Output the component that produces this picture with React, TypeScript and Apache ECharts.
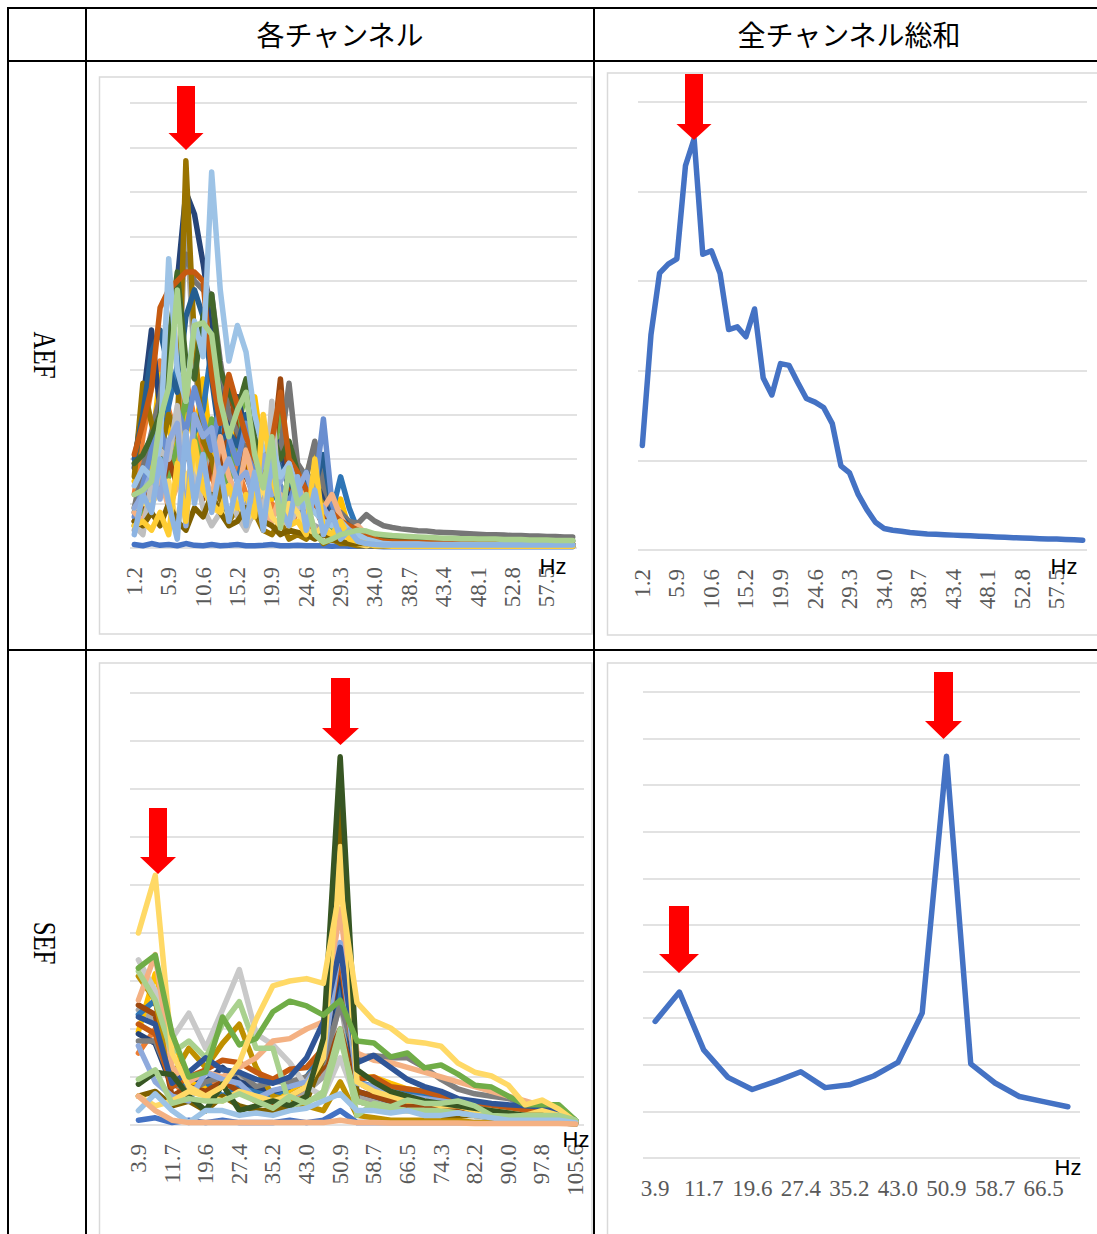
import React, { useEffect, useRef } from "react";
import * as echarts from "echarts";

// ---------- categories (Hz) ----------
const aefFreq = ["1.2","2.3","3.5","4.7","5.9","7.0","8.2","9.4","10.6","11.7","12.9","14.1","15.2","16.4","17.6","18.8","19.9","21.1","22.3","23.4","24.6","25.8","27.0","28.1","29.3","30.5","31.6","32.8","34.0","35.2","36.3","37.5","38.7","39.8","41.0","42.2","43.4","44.5","45.7","46.9","48.1","49.2","50.4","51.6","52.8","53.9","55.1","56.3","57.5","58.6","59.8","61.0"];
const sefFreq = ["3.9","7.8","11.7","15.7","19.6","23.5","27.4","31.3","35.2","39.1","43.0","47.0","50.9","54.8","58.7","62.6","66.5","70.4","74.3","78.3","82.2","86.1","90.0","93.9","97.8","101.7","105.6"];
const sefSumFreq = ["3.9","7.8","11.7","15.7","19.6","23.5","27.4","31.3","35.2","39.1","43.0","47.0","50.9","54.8","58.7","62.6","66.5","70.4"];

// ---------- sums ----------
const aefSum = [1.165,2.40,3.09,3.19,3.25,4.29,4.59,3.30,3.34,3.09,2.46,2.49,2.38,2.69,1.92,1.73,2.08,2.06,1.87,1.69,1.65,1.59,1.41,0.94,0.86,0.62,0.45,0.31,0.24,0.22,0.21,0.195,0.187,0.179,0.175,0.17,0.166,0.162,0.158,0.154,0.150,0.146,0.142,0.138,0.134,0.13,0.126,0.122,0.122,0.118,0.114,0.11];
const sefSum = [2.93,3.56,2.32,1.73,1.47,1.65,1.85,1.51,1.57,1.76,2.05,3.11,8.62,2.02,1.61,1.32,1.21,1.10];

// ---------- AEF each channel ----------
const aefCh01 = [0.08,0.05,0.1,0.06,0.08,0.05,0.1,0.06,0.05,0.08,0.05,0.06,0.08,0.05,0.05,0.06,0.08,0.05,0.05,0.06,0.05,0.05,0.05,0.04,0.05,0.04,0.04,0.04,0.04,0.03,0.03,0.03,0.03,0.03,0.03,0.03,0.03,0.03,0.03,0.03,0.03,0.03,0.03,0.03,0.03,0.03,0.03,0.03,0.03,0.03,0.03,0.03];
const aefCh02 = [1.2,2.5,3.6,4.2,3.1,2.4,3.8,2.9,2.2,1.6,1.1,2.3,1.8,1.2,0.8,0.6,1.0,0.7,0.5,0.8,0.6,0.4,0.3,0.5,0.6,0.4,0.3,0.2,0.15,0.12,0.11,0.1,0.1,0.1,0.09,0.09,0.09,0.08,0.08,0.08,0.08,0.07,0.07,0.07,0.07,0.07,0.06,0.06,0.06,0.06,0.06,0.06];
const aefCh03 = [0.4,1.1,1.8,2.2,3.0,2.6,7.6,4.1,2.6,1.8,1.4,1.6,1.1,0.9,1.6,1.2,3.0,1.1,0.7,0.9,0.6,0.5,0.4,0.3,0.3,0.2,0.2,0.15,0.12,0.11,0.1,0.1,0.1,0.09,0.09,0.09,0.09,0.08,0.08,0.08,0.08,0.08,0.07,0.07,0.07,0.07,0.07,0.07,0.06,0.06,0.06,0.06];
const aefCh04 = [1.5,1.1,2.2,3.9,2.7,1.9,3.2,2.4,3.8,2.1,1.5,3.1,2.4,1.8,3.4,2.0,1.1,1.4,0.9,1.2,1.6,2.3,1.0,0.6,1.1,0.4,0.3,0.25,0.2,0.15,0.14,0.13,0.13,0.12,0.12,0.11,0.11,0.11,0.1,0.1,0.1,0.1,0.09,0.09,0.09,0.09,0.09,0.08,0.08,0.08,0.08,0.08];
const aefCh05 = [0.8,1.6,2.4,1.9,3.2,4.1,3.5,2.6,3.1,4.5,3.2,2.0,1.5,2.3,1.7,1.0,1.4,0.9,1.2,0.8,1.5,1.2,1.9,0.8,1.6,0.9,0.4,0.3,0.2,0.15,0.13,0.12,0.12,0.11,0.11,0.1,0.1,0.1,0.1,0.09,0.09,0.09,0.09,0.08,0.08,0.08,0.08,0.08,0.07,0.07,0.07,0.07];
const aefCh06 = [0.5,0.9,1.4,2.0,1.6,2.3,3.4,2.5,1.8,2.9,2.2,1.4,2.6,3.6,1.8,1.1,1.6,3.2,0.9,1.4,0.8,1.0,0.5,0.4,0.3,0.3,0.2,0.2,0.15,0.1,0.1,0.1,0.09,0.09,0.09,0.08,0.08,0.08,0.08,0.08,0.07,0.07,0.07,0.07,0.07,0.07,0.06,0.06,0.06,0.06,0.06,0.06];
const aefCh07 = [1.8,3.3,4.9,3.1,4.0,6.0,8.0,7.5,6.4,5.1,3.6,2.8,3.4,2.6,2.2,1.5,1.8,2.4,1.2,1.5,1.0,0.8,1.3,0.6,0.5,0.4,0.3,0.2,0.15,0.1,0.1,0.09,0.09,0.09,0.08,0.08,0.08,0.08,0.07,0.07,0.07,0.07,0.07,0.07,0.06,0.06,0.06,0.06,0.06,0.06,0.05,0.05];
const aefCh08 = [0.6,1.0,1.5,1.2,2.0,1.4,2.2,1.6,1.1,1.9,1.4,3.8,2.5,1.6,1.2,0.9,2.0,3.8,1.4,1.1,0.7,0.9,0.5,0.8,0.6,0.4,0.3,0.2,0.15,0.1,0.1,0.09,0.09,0.09,0.08,0.08,0.08,0.08,0.07,0.07,0.07,0.07,0.07,0.07,0.06,0.06,0.06,0.06,0.06,0.06,0.05,0.05];
const aefCh09 = [0.9,1.8,2.6,3.4,4.8,5.4,6.6,6.0,5.8,5.7,4.2,3.0,2.6,2.2,1.7,1.4,1.2,2.2,3.7,1.9,1.6,2.4,1.4,0.9,0.8,0.6,0.55,0.75,0.6,0.5,0.46,0.43,0.41,0.39,0.38,0.36,0.35,0.34,0.33,0.32,0.31,0.3,0.3,0.29,0.28,0.28,0.27,0.27,0.26,0.26,0.25,0.25];
const aefCh10 = [1.6,3.7,2.8,2.1,3.0,2.5,8.7,4.6,2.4,2.0,1.1,0.6,0.9,0.5,0.8,0.4,0.3,0.6,0.2,0.3,0.2,0.4,0.1,0.2,0.1,0.1,0.05,0.05,0.05,0.05,0.05,0.05,0.05,0.05,0.05,0.05,0.05,0.05,0.05,0.05,0.05,0.05,0.05,0.05,0.05,0.05,0.05,0.05,0.05,0.05,0.05,0.05];
const aefCh11 = [2.0,3.0,4.4,4.9,4.0,3.5,5.2,5.8,5.2,3.8,2.4,2.6,2.3,3.0,1.9,1.4,2.2,1.8,1.5,1.2,1.7,1.4,2.1,0.9,0.7,0.5,0.4,0.3,0.2,0.15,0.14,0.13,0.13,0.12,0.12,0.11,0.11,0.11,0.1,0.1,0.1,0.1,0.1,0.09,0.09,0.09,0.09,0.09,0.09,0.08,0.08,0.08];
const aefCh12 = [1.9,2.1,2.5,3.0,4.6,6.2,4.2,3.8,5.2,5.7,4.0,3.5,3.1,3.8,2.5,1.8,2.6,2.0,2.4,1.7,1.2,1.5,0.8,0.6,0.5,0.4,0.3,0.35,0.3,0.25,0.24,0.23,0.22,0.22,0.21,0.21,0.2,0.2,0.2,0.19,0.19,0.19,0.18,0.18,0.18,0.17,0.17,0.17,0.17,0.16,0.16,0.16];
const aefCh13 = [0.7,1.4,2.2,2.7,2.0,3.1,2.6,3.6,2.9,2.2,3.2,2.5,1.9,2.8,1.6,1.2,1.9,1.4,1.0,1.6,1.1,1.3,2.9,1.0,0.5,0.4,0.3,0.2,0.15,0.1,0.09,0.09,0.09,0.08,0.08,0.08,0.08,0.08,0.07,0.07,0.07,0.07,0.07,0.07,0.06,0.06,0.06,0.06,0.06,0.06,0.06,0.06];
const aefCh14 = [0.8,0.6,1.2,1.6,0.9,1.4,2.6,1.3,1.9,1.0,2.5,1.6,1.1,2.2,1.4,0.8,0.6,1.2,0.7,1.0,1.3,0.8,0.9,1.2,0.7,0.4,0.5,0.3,0.2,0.1,0.1,0.1,0.09,0.09,0.09,0.09,0.08,0.08,0.08,0.08,0.08,0.07,0.07,0.07,0.07,0.07,0.07,0.06,0.06,0.06,0.06,0.06];
const aefCh15 = [0.5,0.3,1.5,2.2,2.0,3.2,1.1,1.8,0.9,0.5,0.8,1.4,0.7,0.4,0.9,0.6,3.3,0.7,0.5,0.9,1.0,0.4,0.3,0.2,0.3,0.2,0.15,0.1,0.1,0.1,0.09,0.09,0.09,0.08,0.08,0.08,0.08,0.07,0.07,0.07,0.07,0.07,0.06,0.06,0.06,0.06,0.06,0.06,0.05,0.05,0.05,0.05];
const aefCh16 = [0.9,1.0,1.0,1.3,1.5,0.4,1.6,1.9,1.4,0.9,0.8,0.7,1.1,0.6,0.9,1.4,0.7,0.5,1.0,0.8,0.4,0.3,0.5,0.3,0.2,0.15,0.1,0.05,0.1,0.1,0.05,0.05,0.05,0.05,0.04,0.04,0.04,0.04,0.04,0.04,0.04,0.04,0.04,0.04,0.04,0.04,0.04,0.04,0.04,0.04,0.04,0.04];
const aefCh17 = [0.6,0.5,0.8,0.5,1.0,0.6,0.4,0.9,0.7,1.2,0.8,0.5,0.6,0.9,0.8,0.6,0.5,0.3,0.4,0.35,0.3,0.2,0.3,0.2,0.15,0.1,0.1,0.1,0.05,0.05,0.05,0.05,0.05,0.05,0.05,0.05,0.05,0.05,0.05,0.05,0.05,0.05,0.05,0.05,0.05,0.05,0.05,0.05,0.05,0.05,0.05,0.05];
const aefCh18 = [2.1,2.8,3.6,5.4,5.8,6.0,6.2,6.2,6.0,3.9,2.8,3.9,3.2,2.5,2.0,1.6,2.4,3.5,2.0,1.7,1.3,1.0,0.7,0.8,0.6,0.5,0.4,0.3,0.2,0.15,0.14,0.13,0.13,0.12,0.12,0.11,0.11,0.11,0.1,0.1,0.1,0.1,0.1,0.09,0.09,0.09,0.09,0.09,0.09,0.08,0.08,0.08];
const aefCh19 = [0.9,1.2,1.7,1.1,2.4,2.8,0.5,3.0,2.5,2.7,1.6,2.0,1.5,1.7,1.0,2.1,1.2,1.5,1.9,1.3,1.7,1.1,0.9,0.6,0.4,0.3,0.2,0.15,0.1,0.08,0.08,0.08,0.08,0.08,0.08,0.07,0.07,0.07,0.07,0.07,0.07,0.07,0.07,0.06,0.06,0.06,0.06,0.06,0.06,0.06,0.06,0.06];
const aefCh20 = [1.4,1.8,1.6,2.3,6.5,4.0,3.3,5.1,4.3,8.45,5.8,4.2,5.0,4.4,3.0,2.2,2.4,1.6,1.9,1.2,1.0,0.8,0.6,0.5,0.6,0.4,0.3,0.2,0.15,0.1,0.09,0.09,0.09,0.09,0.08,0.08,0.08,0.08,0.08,0.08,0.07,0.07,0.07,0.07,0.07,0.07,0.07,0.07,0.07,0.07,0.07,0.07];
const aefCh21 = [0.5,0.6,0.4,0.8,0.3,1.9,0.6,2.4,1.3,1.0,0.8,1.4,0.9,1.2,0.7,3.0,1.6,0.9,0.5,0.6,0.3,2.0,0.4,0.3,0.6,0.2,0.15,0.1,0.05,0.05,0.04,0.04,0.04,0.04,0.04,0.04,0.04,0.04,0.04,0.04,0.04,0.04,0.04,0.04,0.04,0.04,0.04,0.04,0.04,0.04,0.04,0.04];
const aefCh22 = [0.3,1.2,0.8,2.0,1.0,0.2,2.6,1.0,2.1,0.8,1.8,0.6,1.5,0.5,1.7,0.4,2.0,0.9,0.5,1.6,0.4,1.3,0.3,0.8,0.2,0.4,0.15,0.1,0.08,0.07,0.07,0.07,0.07,0.07,0.07,0.07,0.07,0.07,0.07,0.07,0.07,0.07,0.07,0.07,0.07,0.07,0.07,0.07,0.07,0.07,0.07,0.07];
const aefCh23 = [1.2,1.3,1.5,2.9,3.6,5.8,3.3,5.0,5.06,4.8,3.3,2.5,3.1,3.5,2.1,1.35,2.5,0.45,1.8,1.0,1.2,0.3,0.13,0.2,0.3,0.35,0.4,0.38,0.32,0.3,0.28,0.27,0.26,0.25,0.24,0.23,0.22,0.22,0.21,0.21,0.2,0.2,0.2,0.19,0.19,0.19,0.18,0.18,0.18,0.17,0.17,0.17];

// ---------- SEF each channel ----------
const sefCh01 = [0.1,0.15,0.05,0.1,0.05,0.1,0.05,0.05,0.05,0.1,0.05,0.1,0.3,0.05,0.05,0.05,0.05,0.05,0.05,0.05,0.05,0.05,0.05,0.05,0.05,0.05,0.02];
const sefCh02 = [1.5,2.0,0.9,0.6,0.8,1.0,0.7,0.5,0.4,0.5,0.6,1.2,3.2,0.9,0.7,0.6,0.5,0.4,0.4,0.3,0.3,0.25,0.2,0.2,0.15,0.15,0.05];
const sefCh03 = [2.4,2.2,1.2,0.8,0.7,0.9,1.0,0.6,0.5,0.6,0.7,1.0,2.6,0.6,0.5,0.4,0.4,0.3,0.3,0.3,0.25,0.2,0.2,0.2,0.15,0.1,0.05];
const sefCh04 = [1.95,3.15,1.9,0.87,0.8,0.6,0.7,0.5,0.6,0.7,0.9,1.6,7.06,1.0,1.0,0.87,0.75,0.7,0.6,0.5,0.4,0.3,0.3,0.25,0.2,0.15,0.05];
const sefCh05 = [2.3,2.6,1.0,0.7,0.9,0.6,0.8,0.7,0.6,0.8,1.0,1.5,2.9,0.9,0.8,0.7,0.65,0.6,0.55,0.5,0.45,0.4,0.35,0.3,0.25,0.2,0.05];
const sefCh06 = [1.9,1.7,0.8,1.0,0.9,1.2,0.9,0.8,0.7,0.8,1.0,1.3,3.3,0.7,0.6,0.5,0.5,0.4,0.4,0.35,0.3,0.3,0.25,0.2,0.2,0.15,0.05];
const sefCh07 = [2.5,2.3,0.6,0.8,0.7,0.9,0.7,0.5,0.4,0.6,0.8,1.2,2.0,0.7,0.6,0.5,0.4,0.4,0.3,0.3,0.2,0.2,0.2,0.15,0.1,0.1,0.05];
const sefCh08 = [3.1,2.6,1.0,1.6,1.2,1.7,2.1,1.2,0.6,0.5,0.4,0.3,0.9,0.2,0.15,0.1,0.1,0.1,0.1,0.1,0.05,0.05,0.05,0.05,0.05,0.05,0.02];
const sefCh09 = [1.75,1.75,0.9,0.7,0.9,1.0,1.1,0.8,0.9,0.9,1.0,1.3,2.5,1.4,1.45,1.4,1.4,1.2,0.95,0.75,0.65,0.6,0.55,0.45,0.42,0.35,0.1];
const sefCh10 = [0.6,0.7,0.4,0.5,0.3,0.6,0.4,0.3,0.3,0.4,0.5,1.4,6.67,0.5,0.4,0.3,0.3,0.3,0.2,0.2,0.2,0.15,0.15,0.1,0.1,0.1,0.05];
const sefCh11 = [3.44,2.8,1.8,2.33,1.6,2.4,3.24,1.9,1.67,1.3,0.8,0.6,1.4,0.5,0.4,0.35,0.3,0.3,0.25,0.25,0.2,0.2,0.15,0.15,0.1,0.1,0.05];
const sefCh12 = [2.1,1.9,0.8,1.0,1.15,1.35,1.3,1.1,0.95,1.16,1.2,1.6,3.5,0.95,1.0,0.8,0.75,0.7,0.6,0.5,0.45,0.4,0.35,0.3,0.3,0.2,0.05];
const sefCh13 = [2.6,3.55,1.2,0.9,1.1,1.0,1.2,1.4,1.75,1.8,2.0,2.15,4.5,1.5,1.35,1.3,1.2,1.1,1.0,0.9,0.8,0.7,0.6,0.5,0.4,0.3,0.1];
const sefCh14 = [1.65,0.9,0.6,0.5,1.1,0.95,0.87,0.55,0.72,0.8,0.9,1.4,3.8,0.87,0.8,0.7,0.6,0.55,0.5,0.45,0.35,0.3,0.25,0.2,0.2,0.15,0.05];
const sefCh15 = [3.2,2.6,1.5,1.75,1.4,2.1,2.57,1.6,1.6,0.4,0.5,0.6,1.8,0.5,0.4,0.35,0.3,0.3,0.3,0.25,0.2,0.2,0.2,0.15,0.15,0.1,0.05];
const sefCh16 = [2.25,2.1,0.87,1.1,1.4,1.15,1.1,0.95,0.87,1.0,1.4,2.15,3.7,1.3,1.45,1.2,0.95,0.8,0.7,0.55,0.5,0.45,0.42,0.4,0.38,0.25,0.1];
const sefCh17 = [4.0,5.2,1.5,0.8,0.6,0.5,0.7,0.6,0.5,0.6,0.8,1.4,5.8,0.9,0.7,0.6,0.5,0.5,0.4,0.4,0.3,0.3,0.25,0.2,0.3,0.2,0.05];
const sefCh18 = [0.85,1.1,1.05,0.6,0.3,0.85,0.3,0.4,0.5,0.4,0.6,1.8,7.67,1.15,0.9,0.7,0.6,0.5,0.45,0.4,0.35,0.3,0.25,0.2,0.2,0.15,0.05];
const sefCh19 = [3.27,3.54,1.9,1.0,1.1,2.25,1.67,1.8,2.36,2.58,2.48,2.29,2.6,1.75,1.71,1.42,1.5,1.19,1.25,1.06,0.83,0.79,0.6,0.42,0.42,0.42,0.1];
const sefCh20 = [0.6,0.4,0.5,0.7,0.6,0.8,1.3,2.2,2.9,3.0,3.05,2.95,4.96,2.55,2.17,2.02,1.75,1.71,1.64,1.29,1.1,1.02,0.83,0.42,0.52,0.33,0.07];
const sefCh21 = [0.95,1.15,0.45,0.55,0.5,0.5,0.65,0.5,0.35,0.6,0.45,0.7,2.0,0.2,0.45,0.38,0.52,0.45,0.45,0.5,0.4,0.2,0.18,0.2,0.2,0.2,0.1];
const sefCh22 = [0.3,0.65,0.3,0.05,0.3,0.3,0.2,0.25,0.2,0.3,0.35,0.5,0.65,0.3,0.3,0.25,0.3,0.2,0.2,0.25,0.2,0.15,0.1,0.1,0.1,0.1,0.05];
const sefCh23 = [0.6,0.3,0.1,0.05,0.05,0.05,0.05,0.05,0.05,0.05,0.05,0.05,0.1,0.05,0.05,0.04,0.04,0.04,0.04,0.04,0.03,0.03,0.03,0.03,0.03,0.03,0.02];

const aefChannels = [aefCh01,aefCh02,aefCh03,aefCh04,aefCh05,aefCh06,aefCh07,aefCh08,aefCh09,aefCh10,aefCh11,aefCh12,aefCh13,aefCh14,aefCh15,aefCh16,aefCh17,aefCh18,aefCh19,aefCh20,aefCh21,aefCh22,aefCh23];
const sefChannels = [sefCh01,sefCh02,sefCh03,sefCh04,sefCh05,sefCh06,sefCh07,sefCh08,sefCh09,sefCh10,sefCh11,sefCh12,sefCh13,sefCh14,sefCh15,sefCh16,sefCh17,sefCh18,sefCh19,sefCh20,sefCh21,sefCh22,sefCh23];

// ---------- styles ----------
const aefColors = ["#4472C4","#ED7D31","#A5A5A5","#FFC000","#2E75B6","#70AD47","#264478","#9E480E","#767676","#997300","#255E91","#43682B","#698ED0","#F4B183","#BFBFBF","#FFD966","#7F6000","#C55A11","#8FAADC","#9DC3E6","#FFCD33","#8DB4E2","#A9D18E"];
const sefColors = ["#4472C4","#ED7D31","#A5A5A5","#FFC000","#2E75B6","#264478","#9E480E","#BF9000","#7F7F7F","#7F6000","#C9C9C9","#C55A11","#F4B183","#8FAADC","#A9D18E","#2F5597","#FFD966","#375623","#70AD47","#FFD966","#A9D18E","#9DC3E6","#F4B183"];
const SUM_COLOR = "#4472C4";
const GRID_COLOR = "#D9D9D9";
const LABEL_FONT = "Liberation Serif";
const W = 1097;
const H = 1234;

function xAxisCfg(gridIndex: number, data: string[], rotate: number, interval: number) {
  return {
    type: "category", gridIndex, data, boundaryGap: true,
    axisLine: { show: false }, axisTick: { show: false }, splitLine: { show: false },
    axisLabel: { interval, rotate, margin: 19, color: "#595959", fontFamily: LABEL_FONT, fontSize: 23 },
  };
}
function yAxisCfg(gridIndex: number, max: number) {
  return {
    type: "value", gridIndex, min: 0, max, interval: 1,
    axisLine: { show: false }, axisTick: { show: false }, axisLabel: { show: false },
    splitLine: { show: true, lineStyle: { color: GRID_COLOR, width: 1.5 } },
  };
}
function lineSeries(name: string, data: number[], color: string, idx: number, width: number) {
  return {
    name, type: "line", data, xAxisIndex: idx, yAxisIndex: idx, symbol: "none", silent: true,
    lineStyle: { color, width, cap: "round", join: "round" }, itemStyle: { color },
  };
}
function arrow(cx: number, top: number, headY: number, tipY: number, sw: number, hw: number) {
  return {
    type: "polygon", z: 100,
    shape: { points: [[cx - sw, top], [cx + sw, top], [cx + sw, headY], [cx + hw, headY], [cx, tipY], [cx - hw, headY], [cx - sw, headY]] },
    style: { fill: "#FF0000" },
  };
}
function tline(x1: number, y1: number, x2: number, y2: number) {
  return { type: "line", z: 100, shape: { x1, y1, x2, y2 }, style: { stroke: "#000", lineWidth: 2 } };
}
function box(x: number, y: number, w: number, h: number) {
  return { type: "rect", z: 0, shape: { x, y, width: w, height: h }, style: { fill: "none", stroke: GRID_COLOR, lineWidth: 1.5 } };
}
function txt(x: number, y: number, text: string, font: string, size: number, color: string, extra: any = {}) {
  return {
    type: "text", z: 100, x, y, ...extra,
    style: { text, fontFamily: font, fontSize: size, fill: color, align: "center", verticalAlign: "middle" },
  };
}

export default function App() {
  const ref = useRef<HTMLDivElement>(null);
  useEffect(() => {
    document.body.style.margin = "0";
    document.body.style.overflow = "hidden";
    const chart = echarts.init(ref.current!, null, { renderer: "svg", width: W, height: H });
    const series: any[] = [];
    aefChannels.forEach((d, i) => series.push(lineSeries("AEF ch" + (i + 1), d, aefColors[i], 0, 5.5)));
    series.push(lineSeries("AEF 総和", aefSum, SUM_COLOR, 1, 5.5));
    sefChannels.forEach((d, i) => series.push(lineSeries("SEF ch" + (i + 1), d, sefColors[i], 2, 5.5)));
    series.push(lineSeries("SEF 総和", sefSum, SUM_COLOR, 3, 5.5));

    const option: any = {
      animation: false,
      backgroundColor: "#ffffff",
      grid: [
        { left: 130, top: 103, width: 447, height: 445 },
        { left: 638, top: 102, width: 449, height: 448 },
        { left: 130, top: 693, width: 454, height: 432 },
        { left: 643, top: 692, width: 437, height: 466 },
      ],
      xAxis: [
        xAxisCfg(0, aefFreq, 90, 3),
        xAxisCfg(1, aefFreq, 90, 3),
        xAxisCfg(2, sefFreq, 90, 1),
        xAxisCfg(3, sefSumFreq, 0, 1),
      ],
      yAxis: [yAxisCfg(0, 10), yAxisCfg(1, 5), yAxisCfg(2, 9), yAxisCfg(3, 10)],
      series,
      graphic: {
        elements: [
          box(99.5, 77, 492.5, 557),
          box(607.5, 73, 500, 562),
          box(99.5, 663, 492.5, 590),
          box(607.5, 663, 500, 590),
          tline(7, 8, W, 8),
          tline(7, 61, W, 61),
          tline(7, 650, W, 650),
          tline(8, 7, 8, H),
          tline(86, 7, 86, H),
          tline(594, 7, 594, H),
          txt(340, 34, "各チャンネル", "Noto Sans CJK JP", 28, "#000"),
          txt(849, 34, "全チャンネル総和", "Noto Sans CJK JP", 28, "#000"),
          txt(44, 355, "AEF", LABEL_FONT, 31, "#000", { rotation: -Math.PI / 2, scaleX: 0.8 }),
          txt(44, 943, "SEF", LABEL_FONT, 31, "#000", { rotation: -Math.PI / 2, scaleX: 0.8 }),
          txt(553, 566, "Hz", "Liberation Sans", 22, "#000"),
          txt(1064, 566, "Hz", "Liberation Sans", 22, "#000"),
          txt(576, 1139, "Hz", "Liberation Sans", 22, "#000"),
          txt(1068, 1167, "Hz", "Liberation Sans", 22, "#000"),
          arrow(186, 86, 133, 150, 9, 17.5),
          arrow(694, 74, 124, 140, 9, 17.5),
          arrow(158, 808, 857, 874, 9, 18),
          arrow(340.5, 678, 728, 745, 9.5, 18.5),
          arrow(679, 906, 954, 973, 10, 20),
          arrow(943.5, 672, 721, 739, 9.5, 18.5),
        ],
      },
    };
    chart.setOption(option);
    return () => chart.dispose();
  }, []);
  return <div ref={ref} style={{ width: W, height: H }} />;
}
